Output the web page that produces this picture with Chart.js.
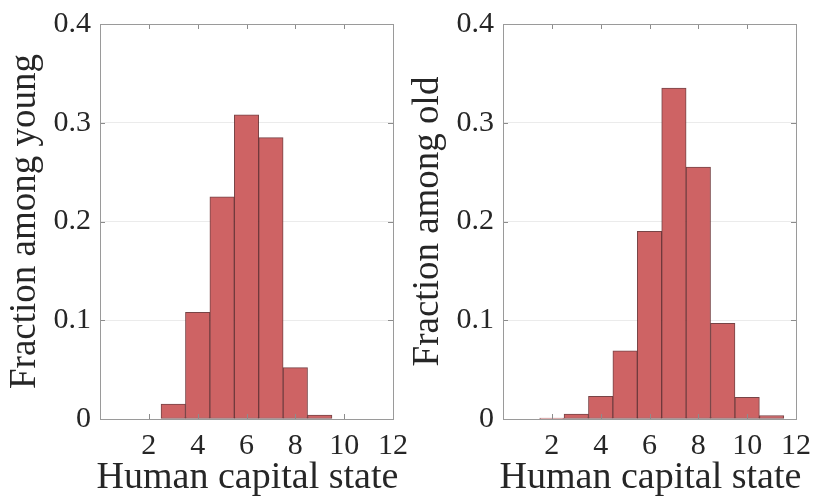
<!DOCTYPE html>
<html>
<head>
<meta charset="utf-8">
<script src="https://cdn.jsdelivr.net/npm/chart.js@4.4.1/dist/chart.umd.min.js"></script>
<style>
    body { margin: 0; background: #ffffff; }
    #wrap { position: relative; width: 814px; height: 504px; }
    canvas { position: absolute; top: 0; }
    #chart_young { left: 0; }
    #chart_old { left: 403px; }
</style>
</head>
<body>
<div id="wrap">
    <canvas id="chart_young" width="407" height="504"></canvas>
    <canvas id="chart_old" width="407" height="504"></canvas>
</div>
<script>
// Histogram data (human capital state -> fraction)
var statesYoung = [3, 4, 5, 6, 7, 8, 9];
var fractionYoung = [0.015, 0.108, 0.225, 0.308, 0.285, 0.052, 0.004];

var statesOld = [2, 3, 4, 5, 6, 7, 8, 9, 10, 11];
var fractionOld = [0.001, 0.005, 0.023, 0.069, 0.190, 0.335, 0.255, 0.097, 0.022, 0.0035];

var xTicks = [2, 4, 6, 8, 10, 12];
var yTicks = [0, 0.1, 0.2, 0.3, 0.4];

var xLabel = 'Human capital state';
var textColor = '#262626';
var serif = '"Liberation Serif", "Times New Roman", serif';

// Box around the axes plus inward tick marks, drawn on top like MATLAB
var boxPlugin = {
    id: 'boxPlugin',
    afterDatasetsDraw: function(chart) {
        var ctx = chart.ctx;
        var a = chart.chartArea;
        var xs = chart.scales.x;
        var ys = chart.scales.y;
        var len = 5;
        ctx.save();
        ctx.strokeStyle = '#8c8c8c';
        ctx.lineWidth = 1;
        ctx.beginPath();
        xTicks.forEach(function(t) {
            var px = Math.round(xs.getPixelForValue(t)) + 0.5;
            ctx.moveTo(px, a.bottom);
            ctx.lineTo(px, a.bottom - len);
            ctx.moveTo(px, a.top);
            ctx.lineTo(px, a.top + len);
        });
        yTicks.forEach(function(t) {
            var py = Math.round(ys.getPixelForValue(t)) + 0.5;
            ctx.moveTo(a.left, py);
            ctx.lineTo(a.left + len, py);
            ctx.moveTo(a.right, py);
            ctx.lineTo(a.right - len, py);
        });
        ctx.stroke();
        ctx.strokeStyle = '#9a9a9a';
        ctx.strokeRect(Math.round(a.left) + 0.5, Math.round(a.top) + 0.5,
            Math.round(a.right - a.left), Math.round(a.bottom - a.top));

        // x axis label, drawn here so it is not squeezed to the axis width
        ctx.fillStyle = textColor;
        ctx.font = '38px ' + serif;
        ctx.textAlign = 'center';
        ctx.textBaseline = 'alphabetic';
        ctx.fillText(xLabel, (a.left + a.right) / 2 + 1, 488);
        ctx.restore();
    }
};

function makeData(states, values) {
    var pts = [];
    for (var i = 0; i < states.length; i++) {
        pts.push({ x: states[i], y: values[i] });
    }
    return pts;
}

function draw_hist(elId, states, values, yLabel) {
    var objData = {
        datasets: [
            {
                data: makeData(states, values),
                backgroundColor: 'rgba(206, 99, 100, 1)',
                borderColor: 'rgba(95, 35, 38, 0.85)',
                borderWidth: 1,
                borderSkipped: false,
                barPercentage: 1.0,
                categoryPercentage: 1.0,
                grouped: false
            }
        ]
    };

    var objOptions = {
        responsive: false,
        animation: false,
        events: [],
        layout: { padding: { left: 0, top: 24, right: 14, bottom: 0 } },
        plugins: {
            legend: { display: false },
            tooltip: { enabled: false }
        },
        scales: {
            x: {
                type: 'linear',
                offset: false,
                min: 0,
                max: 12,
                border: { display: false },
                grid: { display: false, drawTicks: false },
                afterBuildTicks: function(scale) {
                    scale.ticks = xTicks.map(function(v) { return { value: v }; });
                },
                ticks: {
                    color: textColor,
                    font: { family: serif, size: 30 },
                    padding: 9,
                    maxRotation: 0,
                    autoSkip: false
                },
                title: { display: false },
                afterFit: function(scale) {
                    scale.height = 85;
                    scale.paddingLeft = 0;
                    scale.paddingRight = 0;
                }
            },
            y: {
                min: 0,
                max: 0.4,
                border: { display: false },
                grid: {
                    drawTicks: false,
                    color: function(c) {
                        var v = c.tick.value;
                        return (v > 0 && v < 0.4) ? '#ebebeb' : 'rgba(0,0,0,0)';
                    }
                },
                afterBuildTicks: function(scale) {
                    scale.ticks = yTicks.map(function(v) { return { value: v }; });
                },
                ticks: {
                    color: textColor,
                    font: { family: serif, size: 30 },
                    padding: 9,
                    callback: function(v) { return v === 0 ? '0' : v.toFixed(1); }
                },
                title: {
                    display: true,
                    text: yLabel,
                    color: textColor,
                    font: { family: serif, size: 37, lineHeight: 1 },
                    padding: { top: 7, bottom: 0 }
                },
                afterFit: function(scale) {
                    scale.width = 100;
                    scale.paddingTop = 0;
                    scale.paddingBottom = 0;
                }
            }
        }
    };

    var elChart = document.getElementById(elId);
    return new Chart(elChart, {
        type: 'bar',
        data: objData,
        options: objOptions,
        plugins: [boxPlugin]
    });
}

draw_hist('chart_young', statesYoung, fractionYoung, 'Fraction among young');
draw_hist('chart_old', statesOld, fractionOld, 'Fraction among old');
</script>
</body>
</html>
